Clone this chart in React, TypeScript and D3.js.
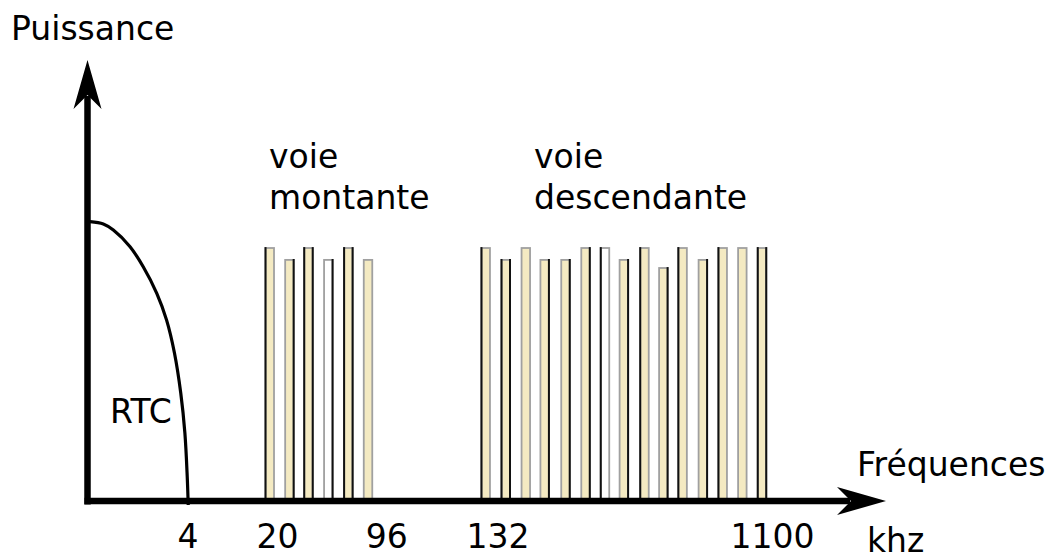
import React from "react";
import * as d3 from "d3";

// ---- data ----
// x is expressed in channel "slots" along the frequency axis (not linear in kHz)
const tickLabels = ["4", "20", "96", "132", "1100"];
const tickSlots = [5.09, 9.64, 15.2, 20.87, 34.83];

const upSlots = [9.25, 10.25, 11.22, 12.23, 13.25, 14.25];
const upPower = [100, 95.3, 100, 95.3, 100, 95.3];
const upFill = ["c", "c", "c", "w", "c", "c"];
const upEdge = ["L", "R", "B", "R", "B", "N"];

const downSlots = [20.24, 21.26, 22.28, 23.24, 24.3, 25.32, 26.31, 27.27, 28.32, 29.28, 30.26, 31.29, 32.3, 33.3, 34.3];
const downPower = [100, 95.3, 100, 95.3, 95.3, 100, 100, 95.3, 100, 92.1, 100, 95.3, 100, 100, 100];
const downFill = ["c", "c", "c", "c", "c", "c", "w", "c", "c", "c", "c", "c", "c", "c", "c"];
const downEdge = ["L", "B", "N", "R", "R", "R", "L", "R", "L", "R", "L", "R", "L", "N", "B"];

const rtcSlots = [0.1, 0.78, 1.29, 2.14, 2.81, 3.5, 4.0, 4.4, 4.72, 4.93, 5.05, 5.1];
const rtcPower = [110.4, 109.5, 107.1, 100.5, 92.6, 82.1, 71.5, 58.5, 42.7, 26.9, 9.6, -1.6];

const W = 1059;
const H = 559;

const x = d3.scaleLinear().domain([0, 40]).range([88, 88 + 40 * 19.65]);
const y = d3.scaleLinear().domain([0, 100]).range([501, 248]);

const FONT = "'DejaVu Sans', Verdana, sans-serif";
const FS = 33;
const CREAM = "#f4eac2";
const GREY = "#a0a0a0";
const DARK = "#111";

function Bar({ slot, power, fill, edge }: { slot: number; power: number; fill: string; edge: string }) {
  const bw = 8.5;
  const cx = x(slot);
  const x0 = cx - bw / 2;
  const top = y(power);
  const bottom = y(0);
  const leftDark = edge === "L" || edge === "B";
  const rightDark = edge === "R" || edge === "B";
  return (
    <g>
      <rect x={x0} y={top} width={bw} height={bottom - top} fill={fill === "w" ? "#fff" : CREAM} stroke={GREY} strokeWidth={1.8} />
      {leftDark && <line x1={x0} x2={x0} y1={top - 0.9} y2={bottom} stroke={DARK} strokeWidth={2} />}
      {rightDark && <line x1={x0 + bw} x2={x0 + bw} y1={top - 0.9} y2={bottom} stroke={DARK} strokeWidth={2} />}
    </g>
  );
}

// Inkscape-like arrow head: tip at (0,0) pointing in +x, scaled
function arrowPath(tipX: number, tipY: number, angleDeg: number, s: number) {
  const pts: [number, number][] = [
    [0, 0],
    [-17.5, -5],
    [-12.5, 0],
    [-17.5, 5],
  ];
  const a = (angleDeg * Math.PI) / 180;
  const t = pts.map(([px, py]) => {
    const X = px * s;
    const Y = py * s;
    return [tipX + X * Math.cos(a) - Y * Math.sin(a), tipY + X * Math.sin(a) + Y * Math.cos(a)];
  });
  return `M${t[0][0]},${t[0][1]}L${t[1][0]},${t[1][1]}L${t[2][0]},${t[2][1]}L${t[3][0]},${t[3][1]}Z`;
}

export default function App() {
  const rtcLine = d3
    .line<number>()
    .x((_, i) => x(rtcSlots[i]))
    .y((d) => y(d))
    .curve(d3.curveCatmullRom.alpha(0.5))(rtcPower) as string;

  const x0 = x(0);
  const y0 = y(0);
  const xTip = 886;
  const yTip = 60;

  return (
    <svg
      width={W}
      height={H}
      viewBox={`0 0 ${W} ${H}`}
      style={{ position: "absolute", left: 0, top: 0, background: "#fff" }}
      fontFamily={FONT}
    >
      <rect x={0} y={0} width={W} height={H} fill="#fff" />

      {/* bars */}
      {upSlots.map((s, i) => (
        <Bar key={"u" + i} slot={s} power={upPower[i]} fill={upFill[i]} edge={upEdge[i]} />
      ))}
      {downSlots.map((s, i) => (
        <Bar key={"d" + i} slot={s} power={downPower[i]} fill={downFill[i]} edge={downEdge[i]} />
      ))}

      {/* RTC curve */}
      <path d={rtcLine} fill="none" stroke="#000" strokeWidth={3.2} />

      {/* axes */}
      <line x1={x0 - 0.5} x2={x0 - 0.5} y1={yTip + 36} y2={y0 + 3.5} stroke="#000" strokeWidth={6.5} />
      <line x1={x0 - 3.5} x2={xTip - 36} y1={y0} y2={y0} stroke="#000" strokeWidth={6.5} />
      <path d={arrowPath(x0 - 0.5, yTip, -90, 2.8)} fill="#000" />
      <path d={arrowPath(xTip, y0, 0, 2.8)} fill="#000" />

      {/* tick labels */}
      {tickLabels.map((t, i) => (
        <text key={t} x={x(tickSlots[i])} y={548} textAnchor="middle" fontSize={FS} fill="#000">
          {t}
        </text>
      ))}

      {/* labels */}
      <text x={11} y={40} fontSize={FS} fill="#000">Puissance</text>
      <text x={269} y={168} fontSize={FS} fill="#000">voie</text>
      <text x={269} y={209} fontSize={FS} fill="#000">montante</text>
      <text x={534} y={168} fontSize={FS} fill="#000">voie</text>
      <text x={534} y={209} fontSize={FS} fill="#000">descendante</text>
      <text x={110} y={423} fontSize={FS} fill="#000">RTC</text>
      <text x={857} y={476} fontSize={FS} fill="#000">Fréquences</text>
      <text x={867} y={552} fontSize={FS} fill="#000">khz</text>
    </svg>
  );
}
